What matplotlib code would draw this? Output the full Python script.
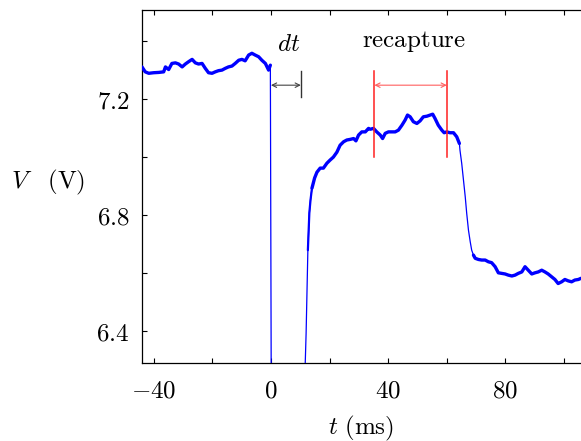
import numpy as np
import matplotlib
matplotlib.use("Agg")
import matplotlib.pyplot as plt

plt.rcParams['mathtext.fontset'] = 'cm'
plt.rcParams['font.family'] = 'serif'
plt.rcParams['font.serif'] = ['DejaVu Serif']

# ---- data (t in ms, V in volts) ----
t_ms = [-44.0, -42.9, -41.7, -40.0, -38.3, -36.6, -36.0, -34.9, -33.8, -32.6,
        -31.5, -30.3, -29.2, -28.1, -26.9, -25.8, -24.7, -23.5, -22.4, -21.3,
        -20.1, -19.0, -17.9, -16.7, -15.6, -14.5, -13.3, -12.2, -11.0, -9.9,
        -8.8, -7.6, -6.5, -5.4, -4.2, -3.1, -1.9, -0.8, -0.2,
        0.1, 11.3,
        11.7, 12.0, 12.3, 12.6, 13.1, 13.5, 14.0, 14.9, 15.7, 16.8,
        17.9, 19.1, 20.2, 21.3, 22.5, 23.6, 24.8, 25.9, 27.0, 28.2,
        29.0, 29.9, 31.0, 32.2, 33.3, 33.9, 35.0, 36.1, 37.3, 38.1,
        39.0, 40.1, 41.3, 42.4, 43.5, 44.7, 45.8, 46.6, 47.5, 48.6,
        49.8, 50.9, 52.0, 53.2, 54.3, 55.2, 56.0, 57.1, 58.3, 59.1,
        60.0, 61.1, 62.3, 63.4, 64.3, 64.5, 65.1, 65.7, 66.3, 66.8,
        67.4, 68.0, 68.5, 69.1, 69.7, 70.8, 71.9, 73.1, 74.2, 75.3,
        76.5, 77.6, 78.8, 79.9, 81.0, 82.2, 83.3, 84.4, 85.6, 86.7,
        87.8, 89.0, 90.1, 91.2, 92.4, 93.5, 94.6, 95.8, 96.9, 98.0,
        99.2, 100.3, 101.5, 102.6, 103.7, 104.9, 105.8]
volts = [7.311, 7.294, 7.289, 7.291, 7.292, 7.294, 7.311, 7.302, 7.323, 7.325,
         7.321, 7.311, 7.321, 7.329, 7.337, 7.325, 7.321, 7.323, 7.306, 7.291,
         7.289, 7.294, 7.298, 7.300, 7.306, 7.311, 7.314, 7.323, 7.334, 7.337,
         7.332, 7.352, 7.358, 7.352, 7.346, 7.334, 7.323, 7.300, 7.317,
         6.200, 6.200,
         6.289, 6.393, 6.541, 6.679, 6.807, 6.852, 6.893, 6.928, 6.948, 6.962,
         6.962, 6.979, 6.990, 7.000, 7.017, 7.041, 7.053, 7.059, 7.061, 7.064,
         7.056, 7.076, 7.087, 7.087, 7.099, 7.096, 7.099, 7.087, 7.076, 7.064,
         7.082, 7.087, 7.087, 7.087, 7.093, 7.110, 7.128, 7.145, 7.139, 7.122,
         7.116, 7.125, 7.139, 7.141, 7.145, 7.148, 7.133, 7.110, 7.093, 7.084,
         7.087, 7.084, 7.084, 7.070, 7.047, 7.024, 6.978, 6.921, 6.863, 6.806,
         6.748, 6.708, 6.679, 6.662, 6.651, 6.647, 6.645, 6.645, 6.639, 6.636,
         6.622, 6.601, 6.599, 6.597, 6.593, 6.590, 6.593, 6.599, 6.604, 6.622,
         6.610, 6.597, 6.601, 6.604, 6.610, 6.604, 6.597, 6.587, 6.578, 6.564,
         6.570, 6.578, 6.573, 6.570, 6.576, 6.578, 6.582]

x_ticks = [-40, 0, 40, 80]
x_tick_labels = ['-40', '0', '40', '80']
x_minor = [-20, 20, 60, 100]
y_ticks = [6.4, 6.8, 7.2]
y_tick_labels = ['6.4', '6.8', '7.2']
y_minor = [6.6, 7.0, 7.4]

dt_start, dt_end = 0.0, 10.2        # ms
recap_start, recap_end = 35.3, 60.0  # ms

t = np.array(t_ms)
v = np.array(volts)

fig = plt.figure(figsize=(5.81, 4.41), dpi=100)
ax = fig.add_axes([142/581, 1 - 362.7/441, 1 - 142/581, (362.7 - 9.5)/441])

# thin full trace, thicker where the signal is noisy
ax.plot(t, v, color='#0000ff', lw=0.9, solid_joinstyle='round', zorder=3)
for m, w in (((t < 0), 2.4),
             (((t >= 14.0) & (t <= 64.3)), 2.4),
             (((t >= 12.6) & (t <= 14.0)), 1.6),
             ((t >= 69.1), 2.4)):
    ax.plot(t, np.where(m, v, np.nan), color='#0000ff', lw=w,
            solid_capstyle='round', zorder=3)

ax.set_xlim(-44.0, 105.8)
ax.set_ylim(6.291, 7.509)

ax.set_xticks(x_ticks)
ax.set_xticklabels(['$%s$' % s for s in x_tick_labels])
ax.set_xticks(x_minor, minor=True)
ax.set_yticks(y_ticks)
ax.set_yticklabels(['$%s$' % s for s in y_tick_labels])
ax.set_yticks(y_minor, minor=True)
ax.tick_params(which='both', direction='in', length=3.5, width=0.8,
               top=True, right=False, labelsize=18)
ax.tick_params(axis='x', pad=12)
ax.tick_params(axis='y', pad=9)
ax.spines['right'].set_visible(False)
for s in ['left', 'top', 'bottom']:
    ax.spines[s].set_linewidth(0.9)

# dt annotation
ax.annotate('', xy=(dt_start, 7.248), xytext=(dt_end, 7.248),
            arrowprops=dict(arrowstyle='<->', color='#444444', lw=0.8,
                            shrinkA=0, shrinkB=0, mutation_scale=8))
ax.plot([dt_end, dt_end], [7.207, 7.297], color='#333333', lw=1.0)
ax.text(5.9, 7.388, r'$dt$', ha='center', va='center', fontsize=18)

# recapture annotation
for tr in (recap_start, recap_end):
    ax.plot([tr, tr], [6.999, 7.297], color='#ff2020', lw=1.1, zorder=4)
ax.annotate('', xy=(recap_start, 7.248), xytext=(recap_end, 7.248),
            arrowprops=dict(arrowstyle='<->', color='#ff6060', lw=0.8,
                            shrinkA=0, shrinkB=0, mutation_scale=8))
ax.text(48.9, 7.398, r'$\mathrm{recapture}$', ha='center', va='center', fontsize=18)

fig.text(361/581, 1 - 428/441, r'$t\ (\mathrm{ms})$', ha='center', va='center', fontsize=18)
fig.text(48/581, 1 - 182/441, r'$V\ \ \ (\mathrm{V})$', ha='center', va='center', fontsize=18)

fig.savefig('out.png', dpi=100)
